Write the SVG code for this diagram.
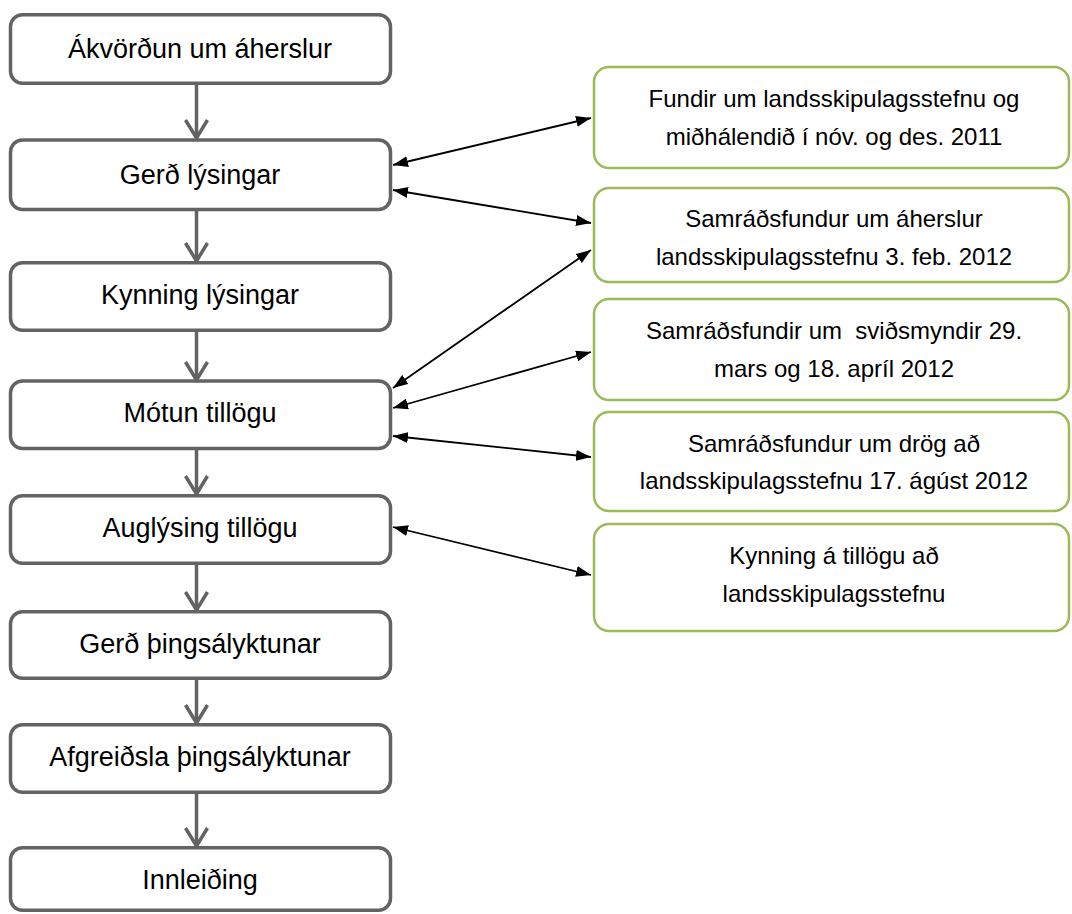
<svg xmlns="http://www.w3.org/2000/svg" width="1072" height="914" viewBox="0 0 1072 914">
<style>
.step rect{fill:#fff;stroke:#636363;stroke-width:3.5}
.step text{font-family:"Liberation Sans",Arial,sans-serif;font-size:27px;fill:#000;text-anchor:middle}
.evt rect{fill:#fff;stroke:#9BBB59;stroke-width:2.5}
.evt text{font-family:"Liberation Sans",Arial,sans-serif;font-size:24px;fill:#000;text-anchor:middle;white-space:pre}
.flow line{stroke:#636363;stroke-width:3.5;marker-end:url(#chev)}
.link line{stroke:#000;stroke-width:1.8;marker-start:url(#tri);marker-end:url(#tri)}
</style>
<defs>
<marker id="chev" viewBox="0 0 24 26" refX="21" refY="13" markerWidth="24" markerHeight="26" markerUnits="userSpaceOnUse" orient="auto">
<path d="M3,2 L21,13 L3,24" fill="none" stroke="#636363" stroke-width="3.5"/>
</marker>
<marker id="tri" viewBox="0 0 15 11" refX="15" refY="5.5" markerWidth="15" markerHeight="11" markerUnits="userSpaceOnUse" orient="auto-start-reverse">
<path d="M0,0 L15,5.5 L0,11 z" fill="#000"/>
</marker>
</defs>
<rect width="1072" height="914" fill="#fff"/>
<g id="n1" class="step"><rect x="10.5" y="14.8" width="380" height="68.5" rx="12"/><text x="200" y="58">Ákvörðun um áherslur</text></g>
<g id="n2" class="step"><rect x="10.5" y="140" width="380" height="69.5" rx="12"/><text x="200" y="184">Gerð lýsingar</text></g>
<g id="n3" class="step"><rect x="10.5" y="262.8" width="380" height="67.5" rx="12"/><text x="200" y="303.5">Kynning lýsingar</text></g>
<g id="n4" class="step"><rect x="10.5" y="381" width="380" height="67.5" rx="12"/><text x="200" y="422">Mótun tillögu</text></g>
<g id="n5" class="step"><rect x="10.5" y="495.8" width="380" height="67.5" rx="12"/><text x="200" y="537">Auglýsing tillögu</text></g>
<g id="n6" class="step"><rect x="10.5" y="611.8" width="380" height="66.5" rx="12"/><text x="200" y="653">Gerð þingsályktunar</text></g>
<g id="n7" class="step"><rect x="10.5" y="724.8" width="380" height="67.5" rx="12"/><text x="200" y="765.5">Afgreiðsla þingsályktunar</text></g>
<g id="n8" class="step"><rect x="10.5" y="847.8" width="380" height="62.5" rx="12"/><text x="200" y="888.5">Innleiðing</text></g>
<g id="e1" class="evt"><rect x="594" y="67" width="475" height="101" rx="15"/><text x="834" y="107">Fundir um landsskipulagsstefnu og</text><text x="834" y="145">miðhálendið í nóv. og des. 2011</text></g>
<g id="e2" class="evt"><rect x="594" y="188" width="475" height="94" rx="15"/><text x="834" y="227">Samráðsfundur um áherslur</text><text x="834" y="265">landsskipulagsstefnu 3. feb. 2012</text></g>
<g id="e3" class="evt"><rect x="594" y="299" width="475" height="101" rx="15"/><text x="834" y="339">Samráðsfundir um  sviðsmyndir 29.</text><text x="834" y="377">mars og 18. apríl 2012</text></g>
<g id="e4" class="evt"><rect x="594" y="412" width="475" height="99" rx="15"/><text x="834" y="451.5">Samráðsfundur um drög að</text><text x="834" y="489">landsskipulagsstefnu 17. ágúst 2012</text></g>
<g id="e5" class="evt"><rect x="594" y="524" width="475" height="107" rx="15"/><text x="834" y="563.5">Kynning á tillögu að</text><text x="834" y="601.5">landsskipulagsstefnu</text></g>
<g id="connectors">
<g class="flow">
<line x1="196.5" y1="85" x2="196.5" y2="138"/>
<line x1="196.5" y1="211" x2="196.5" y2="261"/>
<line x1="196.5" y1="332" x2="196.5" y2="380"/>
<line x1="196.5" y1="450" x2="196.5" y2="494"/>
<line x1="196.5" y1="565" x2="196.5" y2="610"/>
<line x1="196.5" y1="680" x2="196.5" y2="723"/>
<line x1="196.5" y1="794" x2="196.5" y2="846"/>
</g>
<g class="link">
<line x1="393" y1="165" x2="591" y2="118"/>
<line x1="393" y1="190" x2="591" y2="223"/>
<line x1="393" y1="388" x2="591" y2="250"/>
<line x1="393" y1="408" x2="591" y2="352"/>
<line x1="393" y1="436" x2="591" y2="457"/>
<line x1="393" y1="527" x2="591" y2="575"/>
</g>
</g>
</svg>
